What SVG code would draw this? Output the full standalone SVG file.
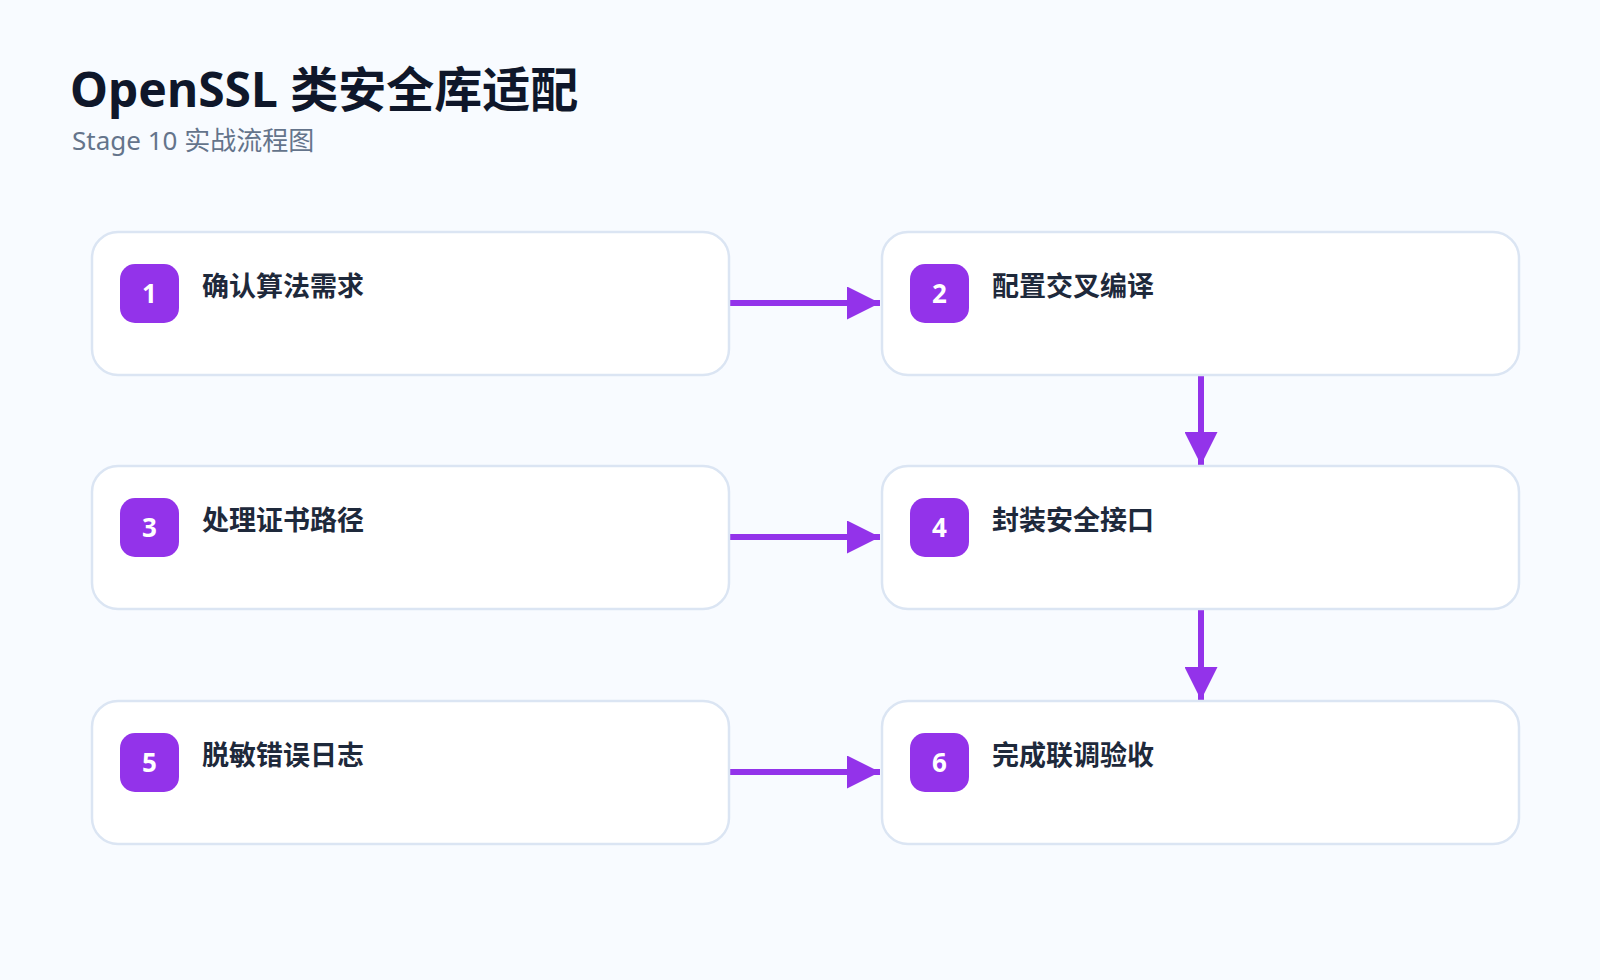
<svg xmlns="http://www.w3.org/2000/svg" width="1600" height="980" viewBox="0 0 1600 980">
<style>
.box{fill:#fff;stroke:#dbe5f3;stroke-width:2.5}
.badge{fill:#9333ea}
.num{font-family:"Noto Sans","Noto Sans CJK SC",sans-serif;font-weight:700;font-size:26px;fill:#fff;text-anchor:middle}
.lbl{font-family:"Noto Sans CJK SC",sans-serif;font-weight:700;font-size:27px;fill:#1e293b}
.con{stroke:#9333ea;stroke-width:6;fill:none}
</style>
<defs><marker id="ah" viewBox="0 0 10 10" refX="10" refY="5" markerWidth="5.5" markerHeight="5.5" markerUnits="strokeWidth" orient="auto"><path d="M0,0L10,5L0,10Z" fill="#9333ea"/></marker></defs>
<rect width="1600" height="980" fill="#f8fbff"/>
<text x="70" y="107" font-family="'Noto Sans','Noto Sans CJK SC',sans-serif" font-weight="700" font-size="48" fill="#0f172a">OpenSSL 类安全库适配</text>
<text x="72" y="150" font-family="'Noto Sans','Noto Sans CJK SC',sans-serif" font-size="26" fill="#64748b">Stage 10 实战流程图</text>
<g id="connectors">
<line class="con" x1="730" y1="303" x2="880" y2="303" marker-end="url(#ah)"/>
<line class="con" x1="730" y1="537" x2="880" y2="537" marker-end="url(#ah)"/>
<line class="con" x1="730" y1="772" x2="880" y2="772" marker-end="url(#ah)"/>
<line class="con" x1="1201" y1="375" x2="1201" y2="465" marker-end="url(#ah)"/>
<line class="con" x1="1201" y1="610" x2="1201" y2="700" marker-end="url(#ah)"/>
</g>
<g id="n1"><rect class="box" x="92" y="232" width="637" height="143" rx="26"/><rect class="badge" x="120" y="264" width="59" height="59" rx="15"/><text class="num" x="149.5" y="303">1</text><text class="lbl" x="202" y="296">确认算法需求</text></g>
<g id="n2"><rect class="box" x="882" y="232" width="637" height="143" rx="26"/><rect class="badge" x="910" y="264" width="59" height="59" rx="15"/><text class="num" x="939.5" y="303">2</text><text class="lbl" x="992" y="296">配置交叉编译</text></g>
<g id="n3"><rect class="box" x="92" y="466" width="637" height="143" rx="26"/><rect class="badge" x="120" y="498" width="59" height="59" rx="15"/><text class="num" x="149.5" y="537">3</text><text class="lbl" x="202" y="530">处理证书路径</text></g>
<g id="n4"><rect class="box" x="882" y="466" width="637" height="143" rx="26"/><rect class="badge" x="910" y="498" width="59" height="59" rx="15"/><text class="num" x="939.5" y="537">4</text><text class="lbl" x="992" y="530">封装安全接口</text></g>
<g id="n5"><rect class="box" x="92" y="701" width="637" height="143" rx="26"/><rect class="badge" x="120" y="733" width="59" height="59" rx="15"/><text class="num" x="149.5" y="772">5</text><text class="lbl" x="202" y="765">脱敏错误日志</text></g>
<g id="n6"><rect class="box" x="882" y="701" width="637" height="143" rx="26"/><rect class="badge" x="910" y="733" width="59" height="59" rx="15"/><text class="num" x="939.5" y="772">6</text><text class="lbl" x="992" y="765">完成联调验收</text></g>
</svg>
